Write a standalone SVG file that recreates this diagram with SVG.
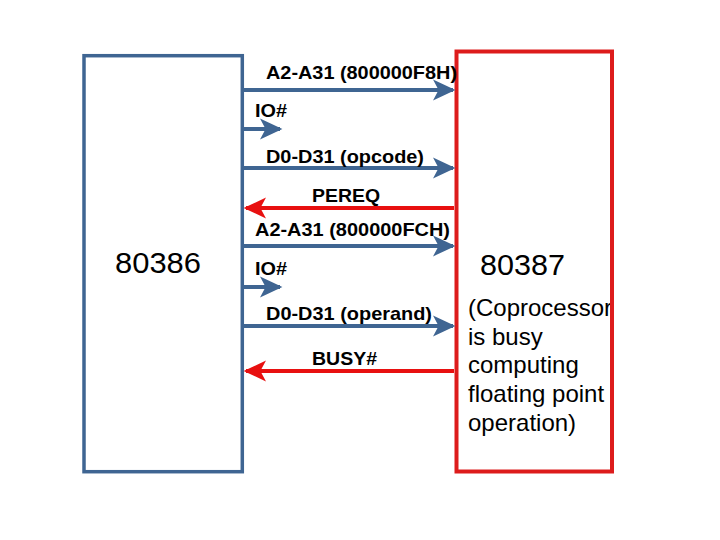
<svg xmlns="http://www.w3.org/2000/svg" width="720" height="540" viewBox="0 0 720 540">
<style>
.blk{fill:#ffffff;stroke-width:3.5}
.cpu{stroke:#3f6592}
.fpu{stroke:#dd1c1c;stroke-width:4}
.big{font-family:"Liberation Sans",Arial,sans-serif;font-size:29px;fill:#000}
.note{font-family:"Liberation Sans",Arial,sans-serif;font-size:24px;fill:#000}
.lbl{font-family:"Liberation Sans",Arial,sans-serif;font-size:19px;font-weight:bold;fill:#000}
.bl{stroke:#3f6592;stroke-width:4;fill:none;marker-end:url(#ab)}
.rd{stroke:#e81010;stroke-width:4;fill:none;marker-end:url(#ar)}
</style>
<defs>
<marker id="ab" markerWidth="6" markerHeight="6" refX="5" refY="3" orient="auto" markerUnits="strokeWidth" viewBox="0 0 6 6">
<path d="M0,0.4 L5.6,3 L0,5.6 L1.4,3 Z" fill="#3f6592"/>
</marker>
<marker id="ar" markerWidth="6" markerHeight="6" refX="5" refY="3" orient="auto" markerUnits="strokeWidth" viewBox="0 0 6 6">
<path d="M0,0.4 L5.6,3 L0,5.6 L1.4,3 Z" fill="#e81010"/>
</marker>
</defs>
<rect width="720" height="540" fill="#ffffff"/>
<g id="cpu80386">
<rect class="blk cpu" x="84" y="55.7" width="158.3" height="416"/>
<text class="big" x="115" y="273" textLength="86" lengthAdjust="spacingAndGlyphs">80386</text>
</g>
<g id="fpu80387">
<rect x="456.5" y="51.5" width="155.5" height="420" fill="#ffffff"/>
<text class="big" x="480" y="275" textLength="85" lengthAdjust="spacingAndGlyphs">80387</text>
<text class="note" x="468" y="316">(Coprocessor</text>
<text class="note" x="468" y="345">is busy</text>
<text class="note" x="468" y="373">computing</text>
<text class="note" x="468" y="402">floating point</text>
<text class="note" x="468" y="431">operation)</text>
<rect class="fpu" x="456.5" y="51.5" width="155.5" height="420" fill="none"/>
</g>
<g id="connectors">
<line class="bl" x1="244" y1="90" x2="453" y2="90"/>
<line class="bl" x1="244" y1="129" x2="280" y2="129"/>
<line class="bl" x1="244" y1="168" x2="453" y2="168"/>
<line class="rd" x1="454" y1="208" x2="246" y2="208"/>
<line class="bl" x1="244" y1="246" x2="453" y2="246"/>
<line class="bl" x1="244" y1="287" x2="280" y2="287"/>
<line class="bl" x1="244" y1="326" x2="453" y2="326"/>
<line class="rd" x1="454" y1="371" x2="246" y2="371"/>
<text class="lbl" x="266" y="79" textLength="191" lengthAdjust="spacingAndGlyphs">A2-A31 (800000F8H)</text>
<text class="lbl" x="255" y="117" textLength="32" lengthAdjust="spacingAndGlyphs">IO#</text>
<text class="lbl" x="266" y="163" textLength="158" lengthAdjust="spacingAndGlyphs">D0-D31 (opcode)</text>
<text class="lbl" x="312" y="202" textLength="68" lengthAdjust="spacingAndGlyphs">PEREQ</text>
<text class="lbl" x="255" y="236" textLength="195" lengthAdjust="spacingAndGlyphs">A2-A31 (800000FCH)</text>
<text class="lbl" x="255" y="275" textLength="32" lengthAdjust="spacingAndGlyphs">IO#</text>
<text class="lbl" x="266" y="320" textLength="166" lengthAdjust="spacingAndGlyphs">D0-D31 (operand)</text>
<text class="lbl" x="312" y="365" textLength="65" lengthAdjust="spacingAndGlyphs">BUSY#</text>
</g>
</svg>
